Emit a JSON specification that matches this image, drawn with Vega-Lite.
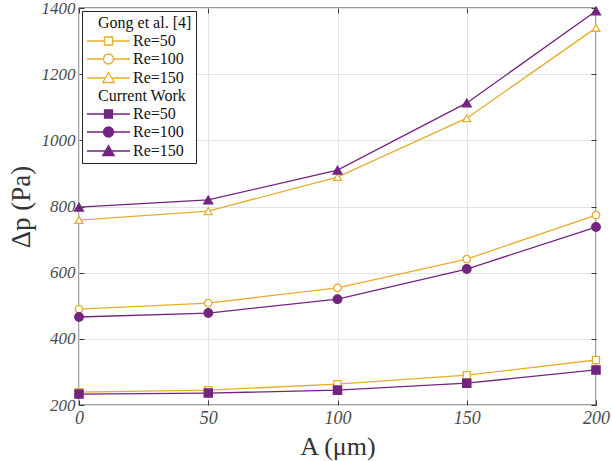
{
  "$schema": "https://vega.github.io/schema/vega-lite/v6.json",
  "width": 517,
  "height": 397,
  "autosize": "none",
  "padding": {"left": 79, "top": 8, "right": 16, "bottom": 56},
  "background": "white",
  "config": {
    "view": {"stroke": "#3a3a3a", "strokeWidth": 1.3},
    "font": "Times New Roman, Liberation Serif, serif"
  },
  "data": {
    "values": [
      {"A": 0, "dp": 239, "series": "g50"},
      {"A": 50, "dp": 245, "series": "g50"},
      {"A": 100, "dp": 263, "series": "g50"},
      {"A": 150, "dp": 290, "series": "g50"},
      {"A": 200, "dp": 336, "series": "g50"},
      {"A": 0, "dp": 490, "series": "g100"},
      {"A": 50, "dp": 508, "series": "g100"},
      {"A": 100, "dp": 554, "series": "g100"},
      {"A": 150, "dp": 641, "series": "g100"},
      {"A": 200, "dp": 774, "series": "g100"},
      {"A": 0, "dp": 759, "series": "g150"},
      {"A": 50, "dp": 786, "series": "g150"},
      {"A": 100, "dp": 889, "series": "g150"},
      {"A": 150, "dp": 1067, "series": "g150"},
      {"A": 200, "dp": 1340, "series": "g150"},
      {"A": 0, "dp": 233, "series": "c50"},
      {"A": 50, "dp": 236, "series": "c50"},
      {"A": 100, "dp": 245, "series": "c50"},
      {"A": 150, "dp": 266, "series": "c50"},
      {"A": 200, "dp": 306, "series": "c50"},
      {"A": 0, "dp": 466, "series": "c100"},
      {"A": 50, "dp": 478, "series": "c100"},
      {"A": 100, "dp": 520, "series": "c100"},
      {"A": 150, "dp": 611, "series": "c100"},
      {"A": 200, "dp": 738, "series": "c100"},
      {"A": 0, "dp": 798, "series": "c150"},
      {"A": 50, "dp": 820, "series": "c150"},
      {"A": 100, "dp": 910, "series": "c150"},
      {"A": 150, "dp": 1113, "series": "c150"},
      {"A": 200, "dp": 1391, "series": "c150"}
    ]
  },
  "layer": [
    {
      "mark": {"type": "line", "strokeWidth": 1.3},
      "encoding": {
        "x": {
          "field": "A", "type": "quantitative",
          "scale": {"domain": [0, 200], "nice": false},
          "axis": {
            "orient": "bottom", "values": [0, 50, 100, 150, 200], "format": "d",
            "title": "A (μm)", "titleFont": "Times New Roman, Liberation Serif, serif", "titleFontSize": 26, "titleFontWeight": "normal", "titleColor": "#333333", "titlePadding": 6,
            "labelFont": "Times New Roman, Liberation Serif, serif", "labelFontStyle": "italic", "labelFontSize": 18, "labelColor": "#4a4a4a", "labelFlush": false, "labelPadding": 9,
            "domain": false, "tickSize": -5, "tickColor": "#3a3a3a",
            "grid": true, "gridColor": "#e3e3e3"
          }
        },
        "y": {
          "field": "dp", "type": "quantitative",
          "scale": {"domain": [200, 1400], "nice": false},
          "axis": {
            "orient": "left", "values": [200, 400, 600, 800, 1000, 1200, 1400], "format": "d",
            "title": "Δp (Pa)", "titleFont": "Times New Roman, Liberation Serif, serif", "titleFontSize": 27, "titleFontWeight": "normal", "titleColor": "#333333", "titlePadding": 6,
            "labelFont": "Times New Roman, Liberation Serif, serif", "labelFontStyle": "italic", "labelFontSize": 17, "labelColor": "#4a4a4a", "labelPadding": 9,
            "domain": false, "tickSize": -5, "tickColor": "#3a3a3a",
            "grid": true, "gridColor": "#e3e3e3"
          }
        },
        "color": {
          "field": "series", "type": "nominal",
          "scale": {"domain": ["g50", "g100", "g150", "c50", "c100", "c150"], "range": ["#E8AC2C", "#E8AC2C", "#E8AC2C", "#72257F", "#72257F", "#72257F"]},
          "legend": null
        }
      }
    },
    {
      "mark": {"type": "point", "strokeWidth": 1.3, "opacity": 1},
      "encoding": {
        "x": {
          "field": "A", "type": "quantitative",
          "axis": {"orient": "top", "values": [0, 50, 100, 150, 200], "labels": false, "title": null, "domain": false, "tickSize": -5, "tickColor": "#3a3a3a", "grid": false}
        },
        "y": {
          "field": "dp", "type": "quantitative",
          "axis": {"orient": "right", "values": [200, 400, 600, 800, 1000, 1200, 1400], "labels": false, "title": null, "domain": false, "tickSize": -5, "tickColor": "#3a3a3a", "grid": false}
        },
        "shape": {
          "field": "series", "type": "nominal",
          "scale": {"domain": ["g50", "g100", "g150", "c50", "c100", "c150"], "range": ["square", "circle", "triangle-up", "square", "circle", "triangle-up"]},
          "legend": null
        },
        "fill": {
          "field": "series", "type": "nominal",
          "scale": {"domain": ["g50", "g100", "g150", "c50", "c100", "c150"], "range": ["white", "white", "white", "#72257F", "#72257F", "#72257F"]},
          "legend": null
        },
        "stroke": {
          "field": "series", "type": "nominal",
          "scale": {"domain": ["g50", "g100", "g150", "c50", "c100", "c150"], "range": ["#E8AC2C", "#E8AC2C", "#E8AC2C", "#72257F", "#72257F", "#72257F"]},
          "legend": null
        },
        "size": {
          "field": "series", "type": "nominal",
          "scale": {"domain": ["g50", "g100", "g150", "c50", "c100", "c150"], "range": [50, 80, 100, 50, 80, 100]},
          "legend": null
        }
      }
    },
    {
      "mark": {"type": "point", "opacity": 0},
      "encoding": {
        "shape": {
          "field": "series", "type": "nominal",
          "scale": {
            "domain": ["gh", "g50", "g100", "g150", "ch", "c50", "c100", "c150"],
            "range": [
              "M0,0",
              "M-4.3,0H-0.8M0.8,0H4.3M-0.8,-0.8H0.8V0.8H-0.8Z",
              "M-4.3,0H-1M1,0H4.3M-1,0A1,1,0,1,1,1,0A1,1,0,1,1,-1,0Z",
              "M-4.3,0H-0.63M0.63,0H4.3M0,-1.1L1.15,0.9H-1.15Z",
              "M0,0",
              "M-4.3,0H-0.8M0.8,0H4.3M-0.8,-0.8H0.8V0.8H-0.8Z",
              "M-4.3,0H-1M1,0H4.3M-1,0A1,1,0,1,1,1,0A1,1,0,1,1,-1,0Z",
              "M-4.3,0H-0.63M0.63,0H4.3M0,-1.1L1.15,0.9H-1.15Z"
            ]
          },
          "legend": {
            "title": null, "orient": "top-left", "offset": 3,
            "strokeColor": "#262626", "fillColor": "white", "padding": 4,
            "symbolSize": 100, "symbolOpacity": 1, "symbolStrokeWidth": 1.3, "symbolOffset": 14.5,
            "labelOffset": 16.5, "labelFont": "Times New Roman, Liberation Serif, serif", "labelFontSize": 16, "labelColor": "#111111",
            "rowPadding": 2,
            "labelExpr": "{'gh':'Gong et al. [4]\u00a0\u00a0\u00a0\u00a0\u00a0\u00a0','g50':'Re=50','g100':'Re=100','g150':'Re=150','ch':'Current Work','c50':'Re=50','c100':'Re=100','c150':'Re=150'}[datum.value]",
            "encode": {
              "labels": {"update": {"dx": {"signal": "datum.value === 'gh' || datum.value === 'ch' ? -35 : 0"}}},
              "symbols": {"update": {"opacity": {"value": 1}}}
            }
          }
        },
        "fill": {
          "field": "series", "type": "nominal",
          "scale": {
            "domain": ["gh", "g50", "g100", "g150", "ch", "c50", "c100", "c150"],
            "range": ["transparent", "white", "white", "white", "transparent", "#72257F", "#72257F", "#72257F"]
          },
          "legend": {
            "title": null, "orient": "top-left", "offset": 3,
            "strokeColor": "#262626", "fillColor": "white", "padding": 4,
            "symbolSize": 100, "symbolOpacity": 1, "symbolStrokeWidth": 1.3, "symbolOffset": 14.5,
            "labelOffset": 16.5, "labelFont": "Times New Roman, Liberation Serif, serif", "labelFontSize": 16, "labelColor": "#111111",
            "rowPadding": 2,
            "labelExpr": "{'gh':'Gong et al. [4]\u00a0\u00a0\u00a0\u00a0\u00a0\u00a0','g50':'Re=50','g100':'Re=100','g150':'Re=150','ch':'Current Work','c50':'Re=50','c100':'Re=100','c150':'Re=150'}[datum.value]",
            "encode": {
              "labels": {"update": {"dx": {"signal": "datum.value === 'gh' || datum.value === 'ch' ? -35 : 0"}}},
              "symbols": {"update": {"opacity": {"value": 1}}}
            }
          }
        },
        "stroke": {
          "field": "series", "type": "nominal",
          "scale": {
            "domain": ["gh", "g50", "g100", "g150", "ch", "c50", "c100", "c150"],
            "range": ["transparent", "#E8AC2C", "#E8AC2C", "#E8AC2C", "transparent", "#72257F", "#72257F", "#72257F"]
          },
          "legend": {
            "title": null, "orient": "top-left", "offset": 3,
            "strokeColor": "#262626", "fillColor": "white", "padding": 4,
            "symbolSize": 100, "symbolOpacity": 1, "symbolStrokeWidth": 1.3, "symbolOffset": 14.5,
            "labelOffset": 16.5, "labelFont": "Times New Roman, Liberation Serif, serif", "labelFontSize": 16, "labelColor": "#111111",
            "rowPadding": 2,
            "labelExpr": "{'gh':'Gong et al. [4]\u00a0\u00a0\u00a0\u00a0\u00a0\u00a0','g50':'Re=50','g100':'Re=100','g150':'Re=150','ch':'Current Work','c50':'Re=50','c100':'Re=100','c150':'Re=150'}[datum.value]",
            "encode": {
              "labels": {"update": {"dx": {"signal": "datum.value === 'gh' || datum.value === 'ch' ? -35 : 0"}}},
              "symbols": {"update": {"opacity": {"value": 1}}}
            }
          }
        }
      }
    }
  ],
  "resolve": {
    "scale": {"shape": "independent", "fill": "independent", "stroke": "independent", "color": "independent", "size": "independent"},
    "axis": {"x": "independent", "y": "independent"}
  }
}
